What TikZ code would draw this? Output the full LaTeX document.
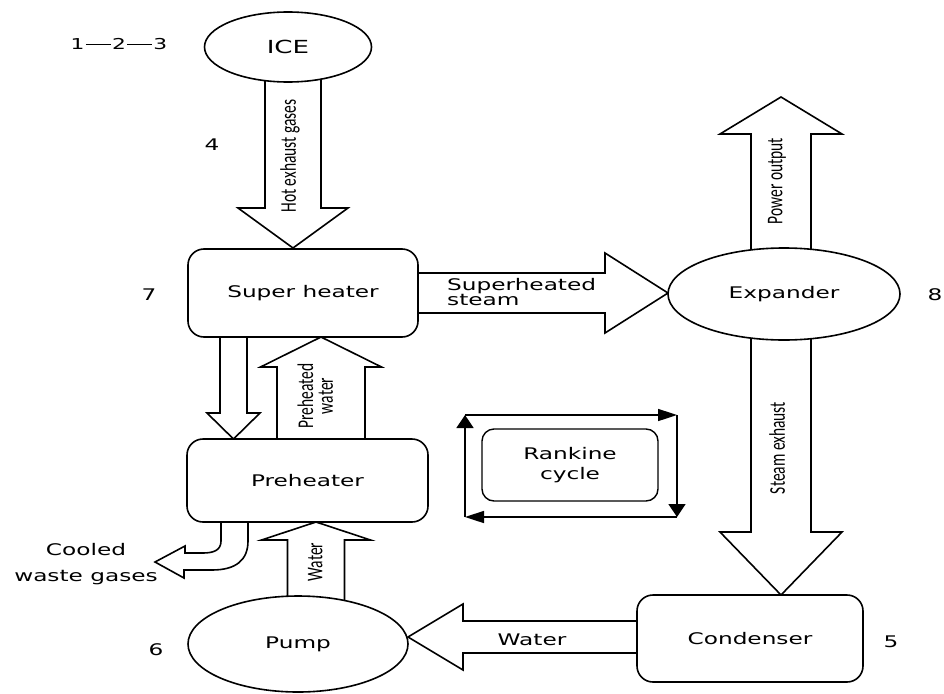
\documentclass[tikz,border=0pt]{standalone}
\usepackage{fontspec}
\usepackage{graphicx}
\setmainfont{DejaVu Sans}
\newfontfamily\narrowfont{Carlito}
\usetikzlibrary{shapes.geometric,arrows.meta}
\pgfdeclarelayer{bg}
\pgfsetlayers{bg,main}
% vertical block arrow: xc, ystart, ybase, ytip, shaft half width, head half width
\newcommand\vblk[6]{\draw[blk] (#1-#5,#2) -- (#1-#5,#3) -- (#1-#6,#3) -- (#1,#4) -- (#1+#6,#3) -- (#1+#5,#3) -- (#1+#5,#2);}
% horizontal block arrow: yc, xstart, xbase, xtip, shaft half width, head half width
\newcommand\hblk[6]{\draw[blk] (#2,#1-#5) -- (#3,#1-#5) -- (#3,#1-#6) -- (#4,#1) -- (#3,#1+#6) -- (#3,#1+#5) -- (#2,#1+#5);}
\newcommand\numdash{\hspace{1pt}\raisebox{4.3pt}{\rule{17pt}{1.3pt}}\hspace{1pt}}
% horizontally stretched text (the reference is stretched 1.45x in x)
\newcommand\wt[1]{\scalebox{1.45}[1]{#1}}
\newcommand\wtl[1]{\scalebox{1.45}[1]{\begin{tabular}{@{}l@{}}#1\end{tabular}}}
\newcommand\wtc[1]{\scalebox{1.45}[1]{\begin{tabular}{@{}c@{}}#1\end{tabular}}}
\newcommand\rt[1]{\scalebox{1.45}[1]{\rotatebox{90}{\begin{tabular}{@{}c@{}}#1\end{tabular}}}}
\begin{document}
\begin{tikzpicture}[x=1pt,y=-1pt,line width=1.6pt,
  box/.style={draw=black, line width=1.6pt, rounded corners=16pt, inner sep=0pt, fill=white},
  oval/.style={draw=black, line width=1.6pt, ellipse, inner sep=0pt, fill=white},
  blk/.style={draw=black, line width=1.6pt, fill=white, line join=miter},
  txt/.style={font=\fontsize{16}{12}\selectfont, inner sep=0pt},
  rtxt/.style={font=\narrowfont\fontsize{15.5}{13}\selectfont, inner sep=0pt},
  hcyc/.style={draw=black, line width=1.6pt, -{Triangle[length=19pt,width=12pt]}},
  vcyc/.style={draw=black, line width=1.6pt, -{Triangle[length=13pt,width=17pt]}}]
\useasboundingbox (0,0) rectangle (944,693);

% nodes
\node[oval, minimum width=167pt, minimum height=70pt] (ice) at (288,47) {};
\node[box, minimum width=230pt, minimum height=88pt] (sh) at (303,293) {};
\node[oval, minimum width=232pt, minimum height=92pt] (exp) at (784,294) {};
\node[box, minimum width=241pt, minimum height=83pt] (ph) at (307.5,480.5) {};
\node[box, minimum width=226pt, minimum height=87pt] (cond) at (750,638.5) {};
\node[oval, minimum width=220pt, minimum height=96pt] (pump) at (298,644) {};

% block arrows (behind nodes)
\begin{pgfonlayer}{bg}
\vblk{293}{70}{208}{248}{28}{55}
\hblk{293}{405}{605}{668}{20}{40}
\vblk{781}{280}{134}{97}{30}{61}
\vblk{781}{320}{532}{595}{30}{61}
\hblk{637}{650}{463}{408}{16}{33}
\vblk{316}{630}{540}{522}{28.5}{54.5}
\vblk{233.5}{320}{413}{439}{13.5}{26.5}
\vblk{321}{450}{367}{337}{44}{60.5}
\draw[blk] (221,510) -- (221,541) .. controls (221,550) and (214,553) .. (203,553) -- (185,553)
  -- (185,546) -- (155,562) -- (184,578) -- (184,570) -- (212,570)
  .. controls (236,570) and (248,560) .. (248,541) -- (248,510);
\end{pgfonlayer}

% node texts
\node[txt, font=\fontsize{18}{18}\selectfont] at (ice) {\wt{ICE}};
\node[txt] at (sh) {\wt{Super heater}};
\node[txt] at (exp) {\wt{Expander}};
\node[txt] at (ph) {\wt{Preheater}};
\node[txt] at (cond) {\wt{Condenser}};
\node[txt] at (pump) {\wt{Pump}};

% arrow labels
\node[rtxt] at (291,156) {\rt{Hot exhaust gases}};
\node[rtxt] at (778,181) {\rt{Power output}};
\node[rtxt] at (780,448) {\rt{Steam exhaust}};
\node[rtxt] at (318,396) {\rt{Preheated\\water}};
\node[rtxt] at (318,562) {\rt{Water}};
\node[txt, anchor=west] at (447,294) {\wtl{Superheated\\steam}};
\node[txt] at (532,640) {\wt{Water}};
\node[txt] (cooled) at (86,550) {\wt{Cooled}};
\node[txt] (waste) at (86,578) {\wt{waste gases}};

% number labels
\node[txt, font=\fontsize{15}{15}\selectfont] at (119,44) {\wt{1\numdash 2\numdash 3}};
\node[txt] at (212,145) {\wt{4}};
\node[txt] at (149,295) {\wt{7}};
\node[txt] at (935,295) {\wt{8}};
\node[txt] at (891,642) {\wt{5}};
\node[txt] at (156,650) {\wt{6}};

% Rankine cycle
\node[box, line width=1.4pt, rounded corners=12pt, minimum width=176pt, minimum height=72pt] (rk) at (570,465) {};
\node[txt, font=\fontsize{16}{20}\selectfont] at (rk) {\wtc{Rankine\\cycle}};
\coordinate (c1) at (465,415);
\coordinate (c2) at (677,415);
\coordinate (c3) at (677,517);
\coordinate (c4) at (465,517);
\draw[hcyc] (c1) -- (c2);
\draw[vcyc] (c2) -- (c3);
\draw[hcyc] (c3) -- (c4);
\draw[vcyc] (c4) -- (c1);
\end{tikzpicture}
\end{document}
